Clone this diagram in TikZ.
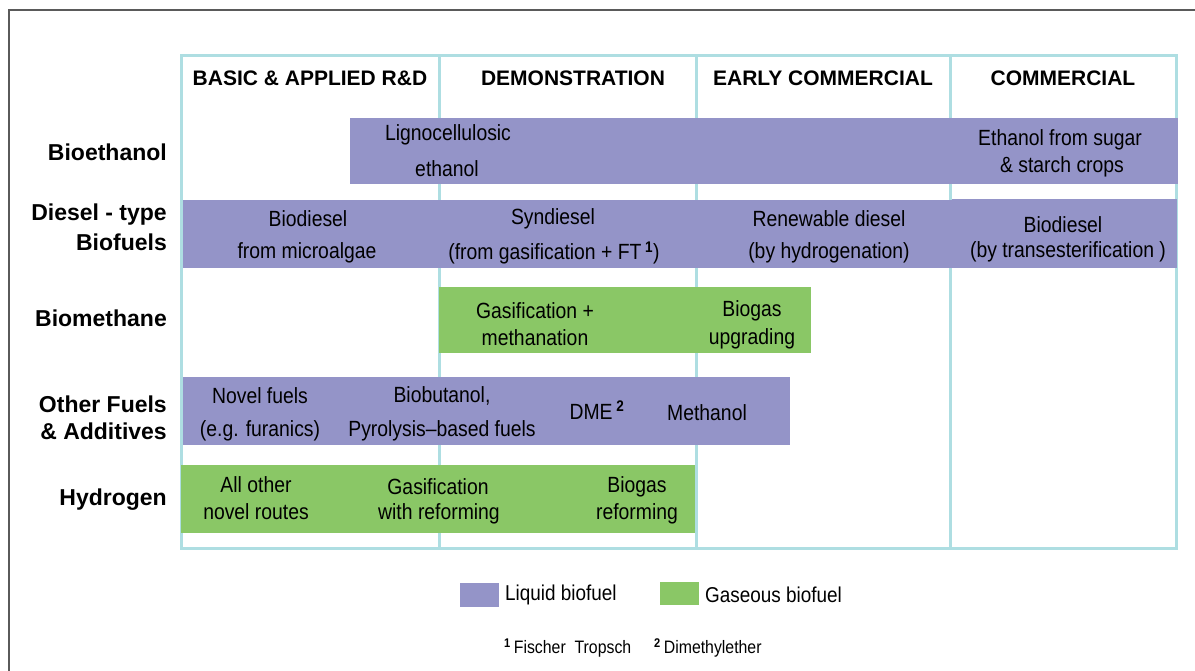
\documentclass[tikz,border=0pt]{standalone}
\usepackage{fontspec}
\setmainfont{Liberation Sans}
\newfontfamily\condfont{Liberation Sans}[FakeStretch=0.88, Ligatures=TeX]
\definecolor{liq}{HTML}{9494C8}
\definecolor{gas}{HTML}{8AC766}
\definecolor{grid}{HTML}{AEDEE2}
\definecolor{frame}{HTML}{5A5A5A}
\tikzset{
  bar/.style={rectangle, inner sep=0pt, outer sep=0pt, anchor=north west, draw=none},
  liqbar/.style={bar, fill=liq},
  gasbar/.style={bar, fill=gas},
  txt/.style={inner sep=0pt, font=\condfont\fontsize{22}{24}\selectfont},
  legtxt/.style={inner sep=0pt, anchor=west, font=\condfont\fontsize{21.5}{24}\selectfont},
  head/.style={inner sep=0pt, font=\fontsize{21}{24}\selectfont\bfseries},
  rowlab/.style={inner sep=0pt, anchor=east, font=\fontsize{23}{26}\selectfont\bfseries},
  foot/.style={inner sep=0pt, anchor=west, font=\condfont\fontsize{18}{20}\selectfont},
  gridline/.style={draw=grid, line width=3pt}
}
\begin{document}
\begin{tikzpicture}[x=1pt, y=-1pt]
\useasboundingbox (0,0) rectangle (1195,670);
% outer frame
\draw[frame, line width=2pt] (8.5,672) -- (8.5,10) -- (1197,10);
% grid
\draw[gridline] (181,55) rectangle (1176,548);
\coordinate (c1t) at (439,55); \coordinate (c1b) at (439,548);
\coordinate (c2t) at (696,55); \coordinate (c2b) at (696,548);
\coordinate (c3t) at (950,55); \coordinate (c3b) at (950,548);
\draw[gridline] (c1t) -- (c1b);
\draw[gridline] (c2t) -- (c2b);
\draw[gridline] (c3t) -- (c3b);
% headers
\node[head] (h1) at (310,78) {BASIC \& APPLIED R\&D};
\node[head] (h2) at (573,78) {DEMONSTRATION};
\node[head] (h3) at (823,78) {EARLY COMMERCIAL};
\node[head] (h4) at (1063,78) {COMMERCIAL};
% row labels
\node[rowlab] (r1) at (167,152) {Bioethanol};
\node[rowlab] (r2a) at (167,215) {Diesel - type};
\node[rowlab] (r2b) at (167,242) {Biofuels};
\node[rowlab] (r3) at (167,318) {Biomethane};
\node[rowlab] (r4a) at (167,404) {Other Fuels};
\node[rowlab] (r4b) at (167,431) {\& Additives};
\node[rowlab] (r5) at (167,500) {Hydrogen};
% bars
\node[liqbar, minimum width=828pt, minimum height=66pt] (b1) at (350,118) {};
\node[liqbar, minimum width=770pt, minimum height=68pt] (b2) at (183,200) {};
\node[liqbar, minimum width=225pt, minimum height=69pt] (b2r) at (952,199) {};
\node[gasbar, minimum width=372pt, minimum height=66pt] (b3) at (439,287) {};
\node[liqbar, minimum width=607pt, minimum height=68pt] (b4) at (183,377) {};
\node[gasbar, minimum width=514pt, minimum height=68pt] (b5) at (181,465) {};
% bar texts
\node[txt] (t1a) at (448,135) {Lignocellulosic};
\node[txt] (t1b) at (447,169) {ethanol};
\node[txt] (t1c) at (1060,140) {Ethanol from sugar};
\node[txt] (t1d) at (1062,167) {\& starch crops};
\node[txt] (t2a) at (308,219) {Biodiesel};
\node[txt] (t2b) at (307,253) {from microalgae};
\node[txt] (t2c) at (553,219) {Syndiesel};
\node[txt] (t2d) at (554,253) {(from gasification + FT\,\textsuperscript{\bfseries 1})};
\node[txt] (t2e) at (829,219) {Renewable diesel};
\node[txt] (t2f) at (829,253) {(by hydrogenation)};
\node[txt] (t2g) at (1063,225) {Biodiesel};
\node[txt] (t2h) at (1068,252) {(by transesterification )};
\node[txt] (t3a) at (535,311) {Gasification +};
\node[txt] (t3b) at (535,338) {methanation};
\node[txt] (t3c) at (752,311) {Biogas};
\node[txt] (t3d) at (752,339) {upgrading};
\node[txt] (t4a) at (260,396) {Novel fuels};
\node[txt] (t4b) at (260,431) {(e.g. furanics)};
\node[txt] (t4c) at (442,396) {Biobutanol,};
\node[txt] (t4d) at (442,431) {Pyrolysis–based fuels};
\node[txt] (t4e) at (597,410) {DME\,\textsuperscript{\bfseries 2}};
\node[txt] (t4f) at (707,413) {Methanol};
\node[txt] (t5a) at (256,485) {All other};
\node[txt] (t5b) at (256,512) {novel routes};
\node[txt] (t5c) at (438,487) {Gasification};
\node[txt] (t5d) at (439,514) {with reforming};
\node[txt] (t5e) at (637,487) {Biogas};
\node[txt] (t5f) at (637,514) {reforming};
% legend
\node[liqbar, minimum width=39pt, minimum height=24pt] (l1) at (460,583) {};
\node[legtxt] (l1t) at (505,595) {Liquid biofuel};
\node[gasbar, minimum width=39pt, minimum height=23pt] (l2) at (660,582) {};
\node[legtxt] (l2t) at (705,595) {Gaseous biofuel};
% footnotes
\node[foot] (f1) at (504,648) {\textsuperscript{\bfseries 1}\,Fischer\ \ Tropsch};
\node[foot] (f2) at (654,648) {\textsuperscript{\bfseries 2}\,Dimethylether};
\end{tikzpicture}
\end{document}
